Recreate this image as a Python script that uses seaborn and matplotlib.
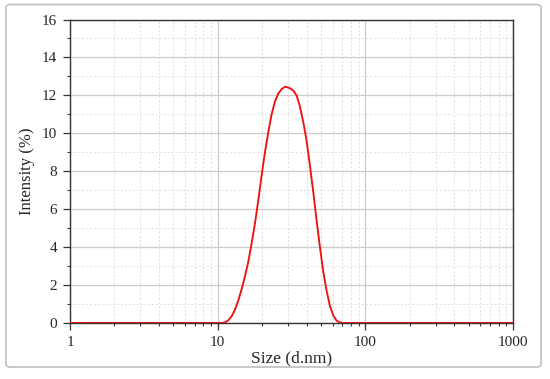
import numpy as np
import pandas as pd
import matplotlib
matplotlib.use("Agg")
import matplotlib.pyplot as plt
import seaborn as sns
from matplotlib.ticker import LogLocator, MultipleLocator, NullFormatter
from matplotlib.patches import FancyBboxPatch

# size distribution by intensity
size_nm = [1.0, 5.0, 10.1, 10.64, 11.20, 11.80, 12.43, 13.10, 13.80, 14.53, 15.30,
           16.12, 16.98, 17.88, 18.84, 19.85, 20.90, 22.02, 23.20, 24.43,
           25.74, 27.11, 28.56, 29.31, 30.87, 32.52, 34.25, 36.08, 37.99,
           40.03, 42.16, 44.41, 46.78, 49.27, 51.90, 54.67, 57.58, 60.66,
           63.89, 67.30, 70.5, 78.82, 200.0, 1000.0]
intensity = [0.0, 0.0, 0.0, 0.0, 0.03, 0.14, 0.35, 0.70, 1.19, 1.78, 2.45,
             3.23, 4.20, 5.24, 6.47, 7.78, 9.00, 10.05, 11.01, 11.68,
             12.10, 12.33, 12.45, 12.44, 12.38, 12.25, 12.00, 11.40, 10.60,
             9.60, 8.30, 6.90, 5.40, 4.00, 2.70, 1.70, 0.90, 0.40,
             0.12, 0.03, 0.0, 0.0, 0.0, 0.0]

x_ticks = [1, 10, 100, 1000]
x_labels = ["1", "10", "100", "1000"]
y_ticks = [0, 2, 4, 6, 8, 10, 12, 14, 16]

df = pd.DataFrame({"size": size_nm, "intensity": intensity})

sns.set_style("white")
plt.rcParams['font.family'] = ['Liberation Serif', 'DejaVu Serif']

fig = plt.figure(figsize=(5.5, 3.79), dpi=100)
ax = fig.add_axes([0.1273, 0.1478, 0.8054, 0.8007])

# rounded frame round the whole figure
frame = FancyBboxPatch((6 / 550, 1 - 367 / 379), 535 / 550, 362.5 / 379,
                       boxstyle="round,pad=0,rounding_size=0.008",
                       transform=fig.transFigure, fill=False,
                       edgecolor='#c4c4c4', linewidth=1.3, zorder=0)
fig.patches.append(frame)

sns.lineplot(data=df, x="size", y="intensity", color='#ee1111',
             linewidth=1.35, ax=ax, zorder=5)

ax.set_xscale('log')
ax.set_xlim(1, 1000)
ax.set_ylim(0, 16)

ax.set_xticks(x_ticks, labels=x_labels)
ax.xaxis.set_minor_locator(LogLocator(base=10, subs=np.arange(2, 10)))
ax.xaxis.set_minor_formatter(NullFormatter())
ax.set_yticks(y_ticks)
ax.yaxis.set_minor_locator(MultipleLocator(1))

ax.grid(which='major', color='#cccccc', linewidth=0.9, linestyle='-')
ax.grid(which='minor', color='#dddddd', linewidth=0.7, linestyle=(0, (2, 2)))
ax.set_axisbelow(True)

ax.tick_params(which='major', direction='out', length=5, width=0.9,
               color='#333333', labelsize=11, pad=4.3,
               bottom=True, left=True, top=False, right=False)
ax.tick_params(which='minor', direction='out', length=2.5, width=0.8,
               color='#333333', bottom=True, left=True, top=False, right=False)

for sp in ax.spines.values():
    sp.set_color('#333333')
    sp.set_linewidth(1.0)

ax.set_xlabel('Size (d.nm)', fontsize=12.5, labelpad=1)
ax.set_ylabel('Intensity (%)', fontsize=12)
ax.yaxis.set_label_coords(-0.079, 0.5)

fig.savefig('out.png', dpi=100)
